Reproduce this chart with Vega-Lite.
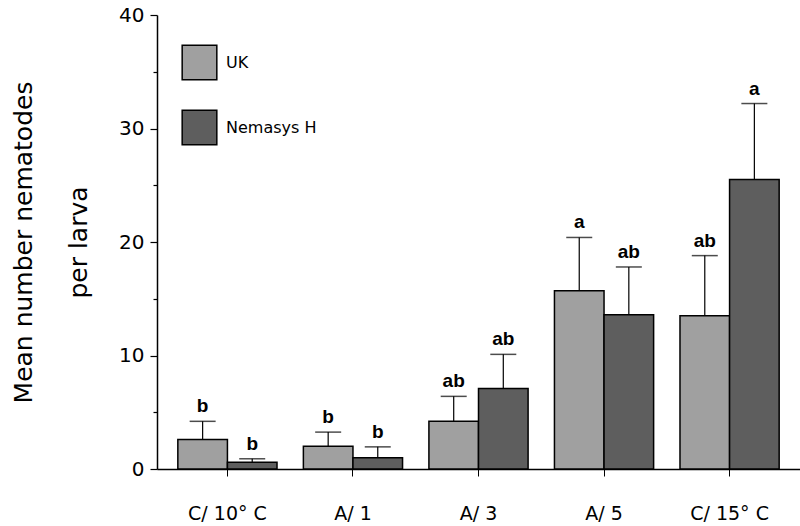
{
  "$schema": "https://vega.github.io/schema/vega-lite/v6.json",
  "width": 643,
  "height": 454,
  "autosize": {"type": "none"},
  "padding": {"left": 157, "top": 15, "right": 0, "bottom": 57},
  "background": "white",
  "config": {"view": {"stroke": null}, "font": "DejaVu Sans"},
  "data": {
    "values": [
      {"cat": "C/ 10° C", "group": "UK", "mean": 2.6, "upper": 4.2, "letter": "b"},
      {"cat": "C/ 10° C", "group": "Nemasys H", "mean": 0.6, "upper": 0.9, "letter": "b"},
      {"cat": "A/ 1", "group": "UK", "mean": 2.0, "upper": 3.25, "letter": "b"},
      {"cat": "A/ 1", "group": "Nemasys H", "mean": 1.0, "upper": 1.95, "letter": "b"},
      {"cat": "A/ 3", "group": "UK", "mean": 4.2, "upper": 6.4, "letter": "ab"},
      {"cat": "A/ 3", "group": "Nemasys H", "mean": 7.1, "upper": 10.1, "letter": "ab"},
      {"cat": "A/ 5", "group": "UK", "mean": 15.7, "upper": 20.4, "letter": "a"},
      {"cat": "A/ 5", "group": "Nemasys H", "mean": 13.6, "upper": 17.8, "letter": "ab"},
      {"cat": "C/ 15° C", "group": "UK", "mean": 13.5, "upper": 18.8, "letter": "ab"},
      {"cat": "C/ 15° C", "group": "Nemasys H", "mean": 25.5, "upper": 32.2, "letter": "a"}
    ]
  },
  "encoding": {
    "x": {
      "field": "cat",
      "type": "nominal",
      "sort": ["C/ 10° C", "A/ 1", "A/ 3", "A/ 5", "C/ 15° C"],
      "scale": {"paddingInner": 0.21, "paddingOuter": 0.166},
      "axis": {
        "title": null,
        "labelAngle": 0,
        "labelFontSize": 19,
        "labelFont": "DejaVu Sans",
        "labelColor": "black",
        "labelPadding": 28,
        "tickSize": 7,
        "tickColor": "black",
        "tickWidth": 1,
        "domainColor": "black",
        "domainWidth": 1.5
      }
    },
    "xOffset": {
      "field": "group",
      "type": "nominal",
      "sort": ["UK", "Nemasys H"],
      "scale": {"paddingInner": 0, "paddingOuter": 0}
    }
  },
  "layer": [
    {
      "mark": {"type": "bar", "stroke": "black", "strokeWidth": 1.5},
      "encoding": {
        "y": {
          "field": "mean",
          "type": "quantitative",
          "scale": {"domain": [0, 40], "nice": false},
          "axis": {
            "values": [0, 5, 10, 15, 20, 25, 30, 35, 40],
            "labelExpr": "datum.value % 10 === 0 ? datum.label : ''",
            "tickSize": {"condition": {"test": "datum.value % 10 === 0", "value": 7}, "value": 4},
            "domainColor": "black",
            "domainWidth": 1.5,
            "tickColor": "black",
            "tickWidth": 1.2,
            "labelColor": "black",
            "labelFontSize": 20,
            "labelFont": "DejaVu Sans",
            "labelPadding": 6,
            "labelFlush": false,
            "labelOverlap": false,
            "grid": false,
            "title": ["Mean number nematodes", "per larva"],
            "titleFont": "DejaVu Sans",
            "titleFontSize": 25,
            "titleFontWeight": "normal",
            "titleColor": "black",
            "titleLineHeight": 55,
            "titlePadding": 27
          }
        },
        "fill": {
          "field": "group",
          "type": "nominal",
          "scale": {"domain": ["UK", "Nemasys H"], "range": ["#a0a0a0", "#5e5e5e"]},
          "legend": {
            "title": null,
            "orient": "none",
            "legendX": 24,
            "legendY": 29,
            "symbolType": "square",
            "symbolSize": 1200,
            "symbolStrokeColor": "black",
            "symbolStrokeWidth": 1.5,
            "symbolOpacity": 1,
            "labelFontSize": 16,
            "labelFont": "DejaVu Sans",
            "labelColor": "black",
            "labelOffset": 8,
            "rowPadding": 24
          }
        }
      }
    },
    {
      "mark": {"type": "rule", "color": "black", "strokeWidth": 1.2},
      "encoding": {
        "y": {"field": "mean", "type": "quantitative"},
        "y2": {"field": "upper"}
      }
    },
    {
      "mark": {"type": "tick", "color": "black", "thickness": 1.5, "size": 26},
      "encoding": {
        "y": {"field": "upper", "type": "quantitative"}
      }
    },
    {
      "mark": {"type": "text", "font": "Liberation Sans", "fontWeight": "bold", "fontSize": 19, "dy": -9, "baseline": "alphabetic", "color": "black"},
      "encoding": {
        "y": {"field": "upper", "type": "quantitative"},
        "text": {"field": "letter"}
      }
    }
  ]
}
